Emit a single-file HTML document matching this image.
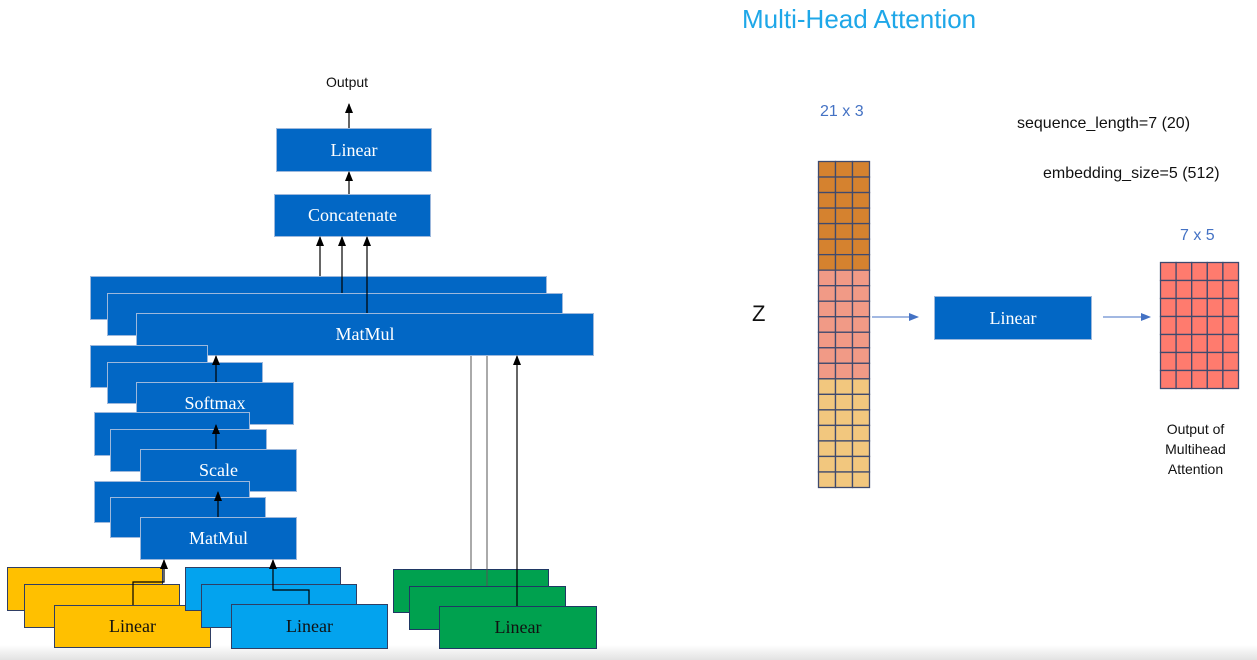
<!DOCTYPE html>
<html><head><meta charset="utf-8"><style>
body{margin:0;width:1257px;height:660px;background:#fff;position:relative;overflow:hidden;font-family:"Liberation Sans",sans-serif}
.b{position:absolute;box-sizing:border-box;border:1.5px solid #9db8dc;background:#0267c5;color:#fff;font-family:"Liberation Serif",serif;font-size:18px;display:flex;align-items:center;justify-content:center}
.y{background:#ffc000;border-color:#2f3e64;color:#111}
.c{background:#03a3ee;border-color:#2f3e64;color:#111}
.g{background:#00a14f;border-color:#1f3864;color:#111}
.t{position:absolute;white-space:nowrap}
svg{position:absolute;left:0;top:0}
</style></head><body>
<div style="position:absolute;left:0;top:645px;width:1257px;height:15px;background:linear-gradient(#fff,#e2e2e2)"></div>
<div class="t" style="left:742px;top:4px;font-size:26px;color:#1ea7e8">Multi-Head Attention</div>
<div class="t" style="left:326px;top:74px;font-size:14px;color:#111">Output</div>

<div class="b" style="left:276px;top:128px;width:156px;height:44px">Linear</div>
<div class="b" style="left:274px;top:194px;width:157px;height:43px">Concatenate</div>

<div class="b" style="left:90px;top:276px;width:457px;height:44px"></div>
<div class="b" style="left:107px;top:293px;width:456px;height:43px"></div>
<div class="b" style="left:136px;top:313px;width:458px;height:43px">MatMul</div>

<div class="b" style="left:90px;top:345px;width:118px;height:43px"></div>
<div class="b" style="left:107px;top:362px;width:156px;height:42px"></div>
<div class="b" style="left:136px;top:382px;width:158px;height:43px">Softmax</div>

<div class="b" style="left:94px;top:412px;width:156px;height:44px"></div>
<div class="b" style="left:110px;top:429px;width:157px;height:43px"></div>
<div class="b" style="left:140px;top:449px;width:157px;height:43px">Scale</div>

<div class="b" style="left:94px;top:481px;width:156px;height:42px"></div>
<div class="b" style="left:110px;top:497px;width:156px;height:41px"></div>
<div class="b" style="left:140px;top:517px;width:157px;height:43px">MatMul</div>

<div class="b y" style="left:7px;top:567px;width:156px;height:44px"></div>
<div class="b y" style="left:24px;top:584px;width:156px;height:44px"></div>
<div class="b y" style="left:54px;top:605px;width:157px;height:43px">Linear</div>

<div class="b c" style="left:185px;top:567px;width:156px;height:44px"></div>
<div class="b c" style="left:201px;top:584px;width:156px;height:44px"></div>
<div class="b c" style="left:231px;top:604px;width:157px;height:45px">Linear</div>

<div class="b g" style="left:393px;top:569px;width:156px;height:44px"></div>
<div class="b g" style="left:409px;top:586px;width:157px;height:44px"></div>
<div class="b g" style="left:439px;top:606px;width:158px;height:43px">Linear</div>

<svg width="1257" height="660">
<defs><marker id="a" markerWidth="10" markerHeight="8" refX="9" refY="4" orient="auto" markerUnits="userSpaceOnUse"><path d="M0,0 L10,4 L0,8 z" fill="#000"/></marker>
<marker id="ab" markerWidth="10" markerHeight="8" refX="9" refY="4" orient="auto" markerUnits="userSpaceOnUse"><path d="M0,0 L10,4 L0,8 z" fill="#4472c4"/></marker></defs>
<g stroke="#000" stroke-width="1.2" fill="none">
<line x1="349" y1="128" x2="349" y2="104" marker-end="url(#a)"/>
<line x1="349" y1="194" x2="349" y2="172" marker-end="url(#a)"/>
<line x1="320" y1="276" x2="320" y2="237" marker-end="url(#a)"/>
<line x1="342" y1="293" x2="342" y2="237" marker-end="url(#a)"/>
<line x1="367" y1="313" x2="367" y2="237" marker-end="url(#a)"/>
<line x1="216" y1="382" x2="216" y2="356" marker-end="url(#a)"/>
<line x1="216" y1="449" x2="216" y2="425" marker-end="url(#a)"/>
<line x1="218" y1="517" x2="218" y2="492" marker-end="url(#a)"/>
<polyline points="133,605 133,582 164,582 164,560" marker-end="url(#a)"/>
<polyline points="309,604 309,590 273,590 273,560" marker-end="url(#a)"/>
<line x1="517" y1="606" x2="517" y2="356" marker-end="url(#a)"/>
</g>
<g stroke="#555" stroke-width="1">
<line x1="471" y1="356" x2="471" y2="569"/>
<line x1="487" y1="356" x2="487" y2="586"/>
</g>
<line x1="872" y1="317" x2="918" y2="317" stroke="#4472c4" stroke-width="1" marker-end="url(#ab)"/>
<line x1="1103" y1="317" x2="1150" y2="317" stroke="#4472c4" stroke-width="1" marker-end="url(#ab)"/>
<g id="zgrid"></g>
<g id="ogrid"></g>
</svg>

<div class="t" style="left:820px;top:103px;font-size:16px;color:#4472c4">21 x 3</div>
<div class="t" style="left:1017px;top:115px;font-size:16px;color:#111">sequence_length=7 (20)</div>
<div class="t" style="left:1043px;top:165px;font-size:16px;color:#111">embedding_size=5 (512)</div>
<div class="t" style="left:1180px;top:227px;font-size:16px;color:#4472c4">7 x 5</div>
<div class="t" style="left:752px;top:301px;font-size:22px;color:#111">Z</div>
<div class="b" style="left:934px;top:296px;width:158px;height:44px">Linear</div>
<div class="t" style="left:1148px;top:419px;font-size:14px;color:#111;text-align:center;line-height:20px;white-space:normal;width:95px">Output of Multihead Attention</div>

<script>
const zRowGroups=["#d5822f","#d5822f","#d5822f","#d5822f","#d5822f","#d5822f","#d5822f","#f19a86","#f19a86","#f19a86","#f19a86","#f19a86","#f19a86","#f19a86","#f2c77e","#f2c77e","#f2c77e","#f2c77e","#f2c77e","#f2c77e","#f2c77e"];
const zCols=3;
const outRows=7;
const outCols=5;
const NS="http://www.w3.org/2000/svg";
function grid(gid,x0,y0,w,h,rows,cols,colorFn){
  const g=document.getElementById(gid);
  const cw=w/cols,ch=h/rows;
  for(let r=0;r<rows;r++)for(let c=0;c<cols;c++){
    const el=document.createElementNS(NS,"rect");
    el.setAttribute("x",x0+c*cw);el.setAttribute("y",y0+r*ch);
    el.setAttribute("width",cw);el.setAttribute("height",ch);
    el.setAttribute("fill",colorFn(r));el.setAttribute("stroke","#3f4a6e");el.setAttribute("stroke-width","1.3");
    
    
    g.appendChild(el);
  }
}
grid("zgrid",818.5,161.5,51,326,zRowGroups.length,zCols,r=>zRowGroups[r]);
grid("ogrid",1160.5,262.5,78,126,outRows,outCols,()=>"#ff7b6e");
</script>
</body></html>
